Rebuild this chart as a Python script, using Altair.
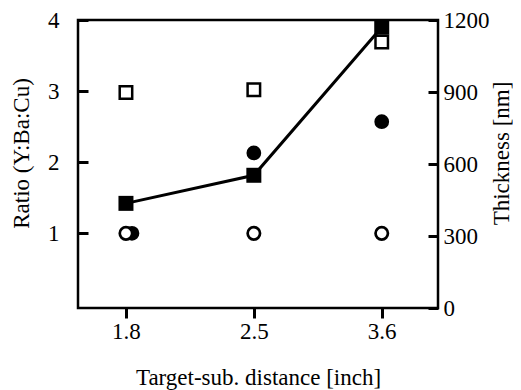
import altair as alt
import pandas as pd

# ---- data ----
distances = ["1.8", "2.5", "3.6"]          # target-substrate distance [inch]
y_ratio = [1.0, 1.0, 1.0]                  # Y  (open circles)
ba_ratio = [1.0, 2.13, 2.57]               # Ba (filled circles)
cu_ratio = [2.98, 3.02, 3.69]              # Cu (open squares)
thickness = [436, 553, 1170]               # film thickness [nm] (filled squares)

df = pd.DataFrame({
    "pos": list(range(len(distances))),
    "dist": distances,
    "y_ratio": y_ratio,
    "ba_ratio": ba_ratio,
    "cu_ratio": cu_ratio,
    "thickness": thickness,
})

FONT = "Liberation Serif"
LFS = 23
TFS = 23
label_expr = "[" + ",".join("'%s'" % d for d in distances) + "][datum.value]"

xscale = alt.Scale(domain=[-0.375, 2.44], nice=False, zero=False)
xaxis = alt.Axis(
    values=[0, 1, 2], labelExpr=label_expr, tickSize=10, tickWidth=3,
    tickColor="black", domain=False, grid=False, labelPadding=2,
    labelFontSize=LFS, labelFont=FONT, labelColor="black",
    title="Target-sub. distance [inch]", titleFont=FONT, titleFontSize=TFS,
    titleFontWeight="normal", titleColor="black", titleY=58,
    titleBaseline="top",
)
xdef = alt.X("pos:Q", scale=xscale, axis=xaxis)

ratio_scale = alt.Scale(domain=[-0.05, 4], nice=False, zero=False)
left_axis = alt.Axis(
    values=[1, 2, 3, 4], orient="left", offset=-10, tickSize=10, tickWidth=3,
    tickColor="black", domain=False, grid=False, labelPadding=19,
    labelFontSize=LFS, labelFont=FONT, labelColor="black",
    title="Ratio (Y:Ba:Cu)", titleFont=FONT, titleFontSize=TFS,
    titleFontWeight="normal", titleColor="black", titleAngle=270,
    titleX=-67, titleY=133, titleBaseline="middle", titleAlign="center",
)

base = alt.Chart(df)

open_sq = base.mark_point(shape="square", filled=True, fill="white",
                          stroke="black", strokeWidth=2.5, size=156, opacity=1).encode(
    x=xdef, y=alt.Y("cu_ratio:Q", scale=ratio_scale, axis=left_axis))

filled_c = base.transform_calculate(
    xs="datum.pos + (datum.pos == 0 ? 0.047 : 0)"
).mark_point(shape="circle", filled=True, color="black", size=218, opacity=1).encode(
    x=alt.X("xs:Q", scale=xscale, axis=xaxis),
    y=alt.Y("ba_ratio:Q", scale=ratio_scale, axis=left_axis))

open_c = base.mark_point(shape="circle", filled=True, fill="white",
                         stroke="black", strokeWidth=2.7, size=154, opacity=1).encode(
    x=xdef, y=alt.Y("y_ratio:Q", scale=ratio_scale, axis=left_axis))

ratio_group = alt.layer(open_sq, filled_c, open_c)

thick_scale = alt.Scale(domain=[0, 1200], nice=False, zero=False)
right_axis = alt.Axis(
    values=[0, 300, 600, 900, 1200], orient="right", offset=-10, tickSize=10,
    tickWidth=3, tickColor="black", domain=False, grid=False, labelPadding=5,
    labelFontSize=LFS, labelFont=FONT, labelColor="black", format="d",
    title="Thickness [nm]", titleFont=FONT, titleFontSize=TFS,
    titleFontWeight="normal", titleColor="black", titleAngle=270,
    titleX=73, titleY=133, titleBaseline="middle", titleAlign="center",
)

line = base.mark_line(color="black", strokeWidth=3).encode(
    x=xdef, y=alt.Y("thickness:Q", scale=thick_scale, axis=right_axis))
filled_sq = base.mark_point(shape="square", filled=True, color="black",
                            size=225, opacity=1).encode(
    x=xdef, y=alt.Y("thickness:Q", scale=thick_scale, axis=right_axis))

thick_group = alt.layer(line, filled_sq)

chart = alt.layer(ratio_group, thick_group).resolve_scale(
    y="independent"
).properties(
    width=360, height=288,
    autosize=alt.AutoSizeParams(type="none"),
    padding={"left": 70, "top": 12, "right": 75, "bottom": 82},
    background="white",
).configure_view(
    stroke="black", strokeWidth=2.5
)

chart.save("out.html", embed_options={"renderer": "svg", "actions": False})
